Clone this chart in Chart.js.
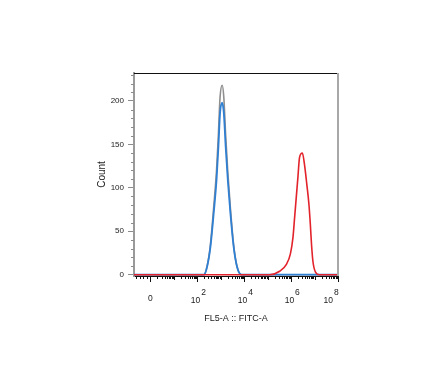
<!DOCTYPE html>
<html>
<head>
<meta charset="utf-8">
<script src="https://cdn.jsdelivr.net/npm/chart.js@4"></script>
<style>
  html, body { margin: 0; padding: 0; background: #fff; }
  #wrap { width: 446px; height: 389px; }
</style>
</head>
<body>
<div id="wrap"><canvas id="histChart" width="446" height="389"></canvas></div>
<script>
// Axis position u: 0 -> "0", 2 -> 10^2, 4 -> 10^4 ... (logicle-like display)
const xTickValues = [0, 2, 4, 6, 8];
const xTickExps = ['', '2', '4', '6', '8'];
const yTickValues = [0, 50, 100, 150, 200];

// Grey histogram (unstained / control)
const greyX = [-0.7, 2.28, 2.42, 2.56, 2.70, 2.82, 2.90, 2.97, 3.06, 3.13, 3.21, 3.30, 3.41, 3.55, 3.69, 3.88, 8];
const greyY = [0, 0, 10, 35, 78, 120, 162, 204, 218, 204, 160, 118, 77, 34, 10, 0, 0];

// Blue histogram
const blueX = [-0.7, 2.28, 2.42, 2.56, 2.70, 2.82, 2.90, 2.97, 3.06, 3.13, 3.21, 3.30, 3.41, 3.55, 3.69, 3.88, 8];
const blueY = [0, 0, 9.5, 32, 71, 109, 147, 186, 198, 186, 147, 109, 71, 32, 9.5, 0, 0];

// Red histogram (stained)
const redX = [-0.7, 5.09, 5.51, 5.80, 5.97, 6.08, 6.15, 6.22, 6.29, 6.36, 6.48, 6.57, 6.67, 6.76, 6.82, 6.87, 6.93, 7.04, 7.21, 8];
const redY = [0, 0, 4, 12, 24, 43, 66, 89, 112, 135, 140, 127, 104, 81, 58, 35, 15.5, 3, 0, 0];

const FONT = '"Liberation Sans", Arial, sans-serif';

function toPoints(xs, ys) {
    return xs.map((x, i) => ({ x: x, y: ys[i] }));
}

// minor ticks + superscript labels + top/right frame
const frameTicks = {
    id: 'frameTicks',
    afterDraw(chart) {
        const ctx = chart.ctx;
        const xs = chart.scales.x;
        const ys = chart.scales.y;
        const a = chart.chartArea;
        ctx.save();

        // y minor ticks every 10
        ctx.strokeStyle = '#8c8c8c';
        ctx.lineWidth = 1;
        for (let v = 10; v <= 230; v += 10) {
            if (v % 50 === 0) continue;
            const py = Math.round(ys.getPixelForValue(v)) + 0.5;
            ctx.beginPath();
            ctx.moveTo(a.left - 3, py);
            ctx.lineTo(a.left, py);
            ctx.stroke();
        }

        // x minor ticks (log spaced inside each decade)
        ctx.strokeStyle = '#111';
        const minors = [];
        for (let d = 0; d < 8; d++) {
            for (let k = 2; k <= 10; k++) minors.push(d + Math.log10(k));
        }
        [-0.6, -0.45, -0.3, -0.15].forEach(v => minors.push(v));
        minors.forEach(v => {
            if (xTickValues.includes(Math.round(v * 1000) / 1000)) return;
            const px = Math.round(xs.getPixelForValue(v)) + 0.5;
            if (px < a.left || px > a.right) return;
            const len = Math.abs(v - Math.round(v)) < 1e-6 ? 4 : 3;
            ctx.beginPath();
            ctx.moveTo(px, a.bottom);
            ctx.lineTo(px, a.bottom + len);
            ctx.stroke();
        });

        // x tick labels with raised exponents
        ctx.fillStyle = '#222';
        ctx.textBaseline = 'alphabetic';
        ctx.font = '8.5px ' + FONT;
        xTickValues.forEach((v, i) => {
            const px = xs.getPixelForValue(v);
            if (xTickExps[i] === '') {
                ctx.textAlign = 'center';
                ctx.fillText('0', px, 301);
                return;
            }
            const anchor = Math.min(px + 3, a.right - 5);
            ctx.textAlign = 'right';
            ctx.fillText('10', anchor, 302.5);
            ctx.textAlign = 'left';
            ctx.fillText(xTickExps[i], anchor + 1, 295);
        });

        // top (black) and right (grey) frame
        ctx.strokeStyle = '#111';
        ctx.lineWidth = 1;
        ctx.beginPath();
        ctx.moveTo(a.left, a.top + 0.5);
        ctx.lineTo(a.right, a.top + 0.5);
        ctx.stroke();
        ctx.strokeStyle = '#a8a8a8';
        ctx.lineWidth = 2;
        ctx.beginPath();
        ctx.moveTo(a.right, a.top);
        ctx.lineTo(a.right, a.bottom);
        ctx.stroke();

        ctx.restore();
    }
};

new Chart(document.getElementById('histChart').getContext('2d'), {
    type: 'line',
    data: {
        datasets: [
            {
                label: 'Control',
                data: toPoints(greyX, greyY),
                borderColor: '#8f8f8f',
                borderWidth: 1.6,
                pointRadius: 0,
                cubicInterpolationMode: 'monotone',
                fill: false,
                order: 3
            },
            {
                label: 'Blue',
                data: toPoints(blueX, blueY),
                borderColor: '#2f7fd3',
                borderWidth: 1.8,
                pointRadius: 0,
                cubicInterpolationMode: 'monotone',
                fill: false,
                order: 2
            },
            {
                label: 'Red',
                data: toPoints(redX, redY),
                borderColor: '#e3232b',
                borderWidth: 1.6,
                pointRadius: 0,
                cubicInterpolationMode: 'monotone',
                fill: false,
                order: 1
            }
        ]
    },
    options: {
        responsive: false,
        animation: false,
        events: [],
        layout: { padding: { left: 96, right: 108, top: 73, bottom: 65 } },
        plugins: {
            legend: { display: false },
            tooltip: { enabled: false }
        },
        scales: {
            x: {
                type: 'linear',
                min: -0.7,
                max: 8,
                afterBuildTicks: scale => {
                    scale.ticks = xTickValues.map(v => ({ value: v }));
                },
                afterFit: scale => { scale.height = 48; },
                ticks: { callback: () => '', font: { size: 8, family: FONT } },
                grid: {
                    drawOnChartArea: false,
                    tickLength: 6,
                    color: '#111',
                    tickColor: '#111'
                },
                border: { display: true, color: '#111', width: 1 },
                title: {
                    display: true,
                    text: 'FL5-A :: FITC-A',
                    color: '#222',
                    font: { size: 9, family: FONT },
                    padding: { top: 0, bottom: 0 }
                }
            },
            y: {
                type: 'linear',
                min: -1.5,
                max: 232.1,
                afterBuildTicks: scale => {
                    scale.ticks = yTickValues.map(v => ({ value: v }));
                },
                afterFit: scale => { scale.width = 38; },
                ticks: {
                    color: '#222',
                    padding: 4,
                    font: { size: 8, family: FONT }
                },
                grid: {
                    drawOnChartArea: false,
                    tickLength: 6,
                    color: '#8c8c8c',
                    tickColor: '#8c8c8c'
                },
                border: { display: true, color: '#9a9a9a', width: 2 },
                title: {
                    display: true,
                    text: 'Count',
                    color: '#222',
                    font: { size: 10, family: FONT },
                    padding: { top: 0, bottom: 0 }
                }
            }
        }
    },
    plugins: [frameTicks]
});
</script>
</body>
</html>
